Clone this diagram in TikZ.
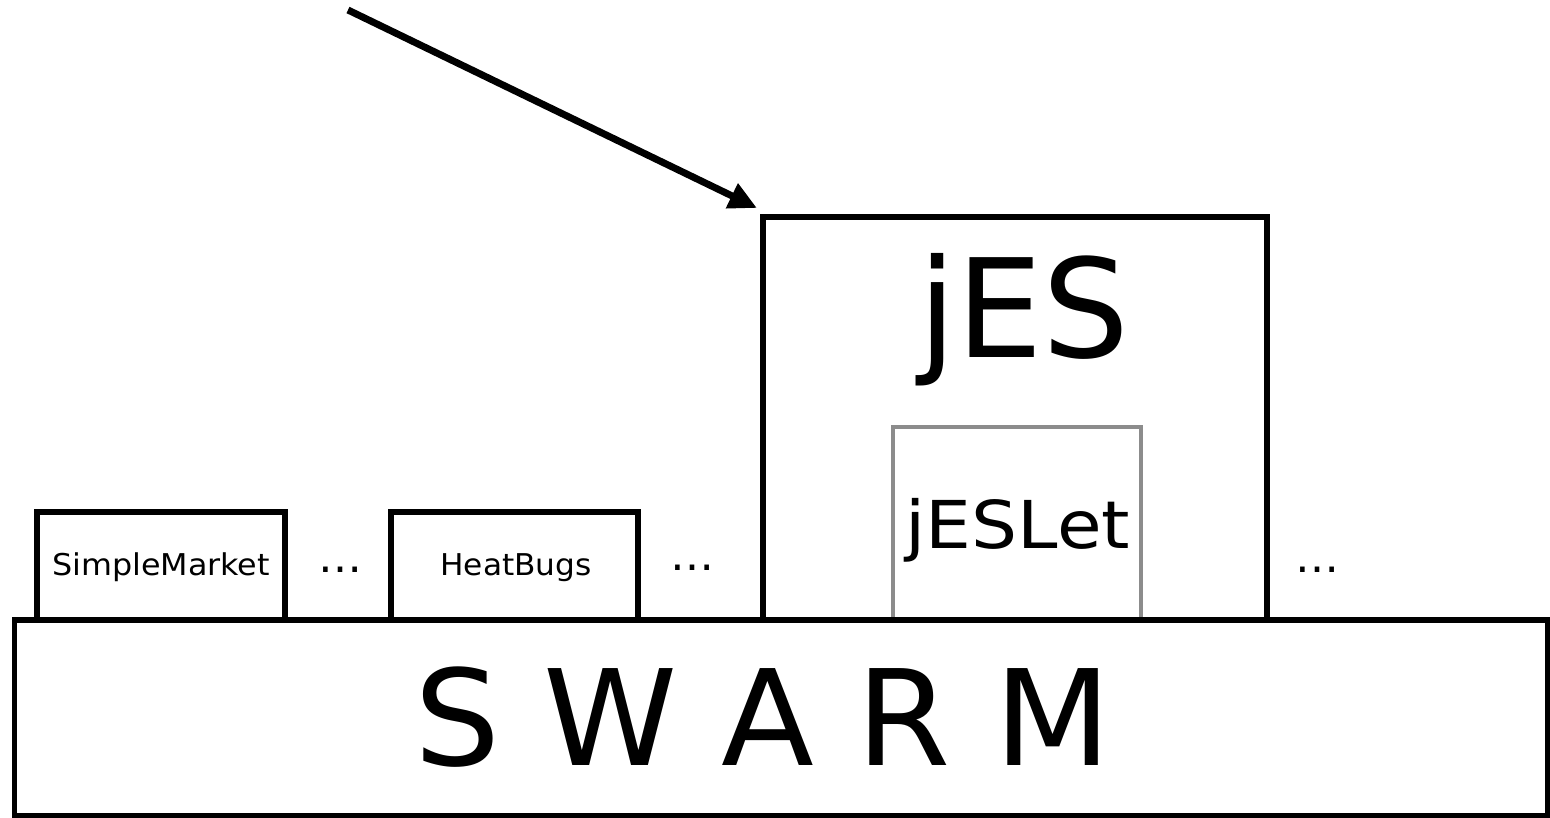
\documentclass[tikz,border=0pt]{standalone}
\usepackage{fontspec}
\setmainfont{DejaVu Sans}
\usetikzlibrary{arrows.meta}
\begin{document}
\begin{tikzpicture}[x=1pt,y=-1pt,
  box/.style={draw=black,line width=5.5pt,fill=white,inner sep=0pt,outer sep=0pt,rectangle},
  graybox/.style={draw=black!45,line width=3.5pt,fill=white,inner sep=0pt,outer sep=0pt,rectangle},
  lbl/.style={inner sep=0pt,anchor=base},
  fs/.style={font=\fontsize{#1}{#1}\selectfont}
]
\useasboundingbox (0,0) rectangle (1550,817);
\fill[white] (0,0) rectangle (1550,817);
% application boxes
\node[box,minimum width=248pt,minimum height=108pt] (sm) at (161,566) {};
\node[box,minimum width=247pt,minimum height=108pt] (hb) at (514.5,566) {};
\node[box,minimum width=504pt,minimum height=404pt] (jes) at (1015,419) {};
\node[graybox,minimum width=248pt,minimum height=194pt] (jeslet) at (1017,524) {};
% base box
\node[box,minimum width=1533pt,minimum height=196pt] (swarm) at (781,718) {};
% texts
\node[lbl,fs=133] (swarmtxt) at (763,765) {\scalebox{1.02}[1]{S W A R M}};
\node[lbl,fs=137] (jestxt) at (1024,357) {jES};
\node[lbl,fs=66] (jeslettxt) at (1018,548) {\scalebox{1.1}[1]{jESLet}};
\node[lbl,fs=30] (smtxt) at (161,575) {\scalebox{1.06}[1]{SimpleMarket}};
\node[lbl,fs=30] (hbtxt) at (516,575) {\scalebox{1.04}[1]{HeatBugs}};
\node[lbl,fs=44] (d1) at (340,572) {…};
\node[lbl,fs=44] (d2) at (692,570) {…};
\node[lbl,fs=44] (d3) at (1317,572) {…};
% arrow
\coordinate (src) at (348,10);
\draw[line width=7pt,-{Triangle[length=28pt,width=26pt]}] (src) -- ([shift={(-6,-9)}]jes.north west);
\end{tikzpicture}
\end{document}
